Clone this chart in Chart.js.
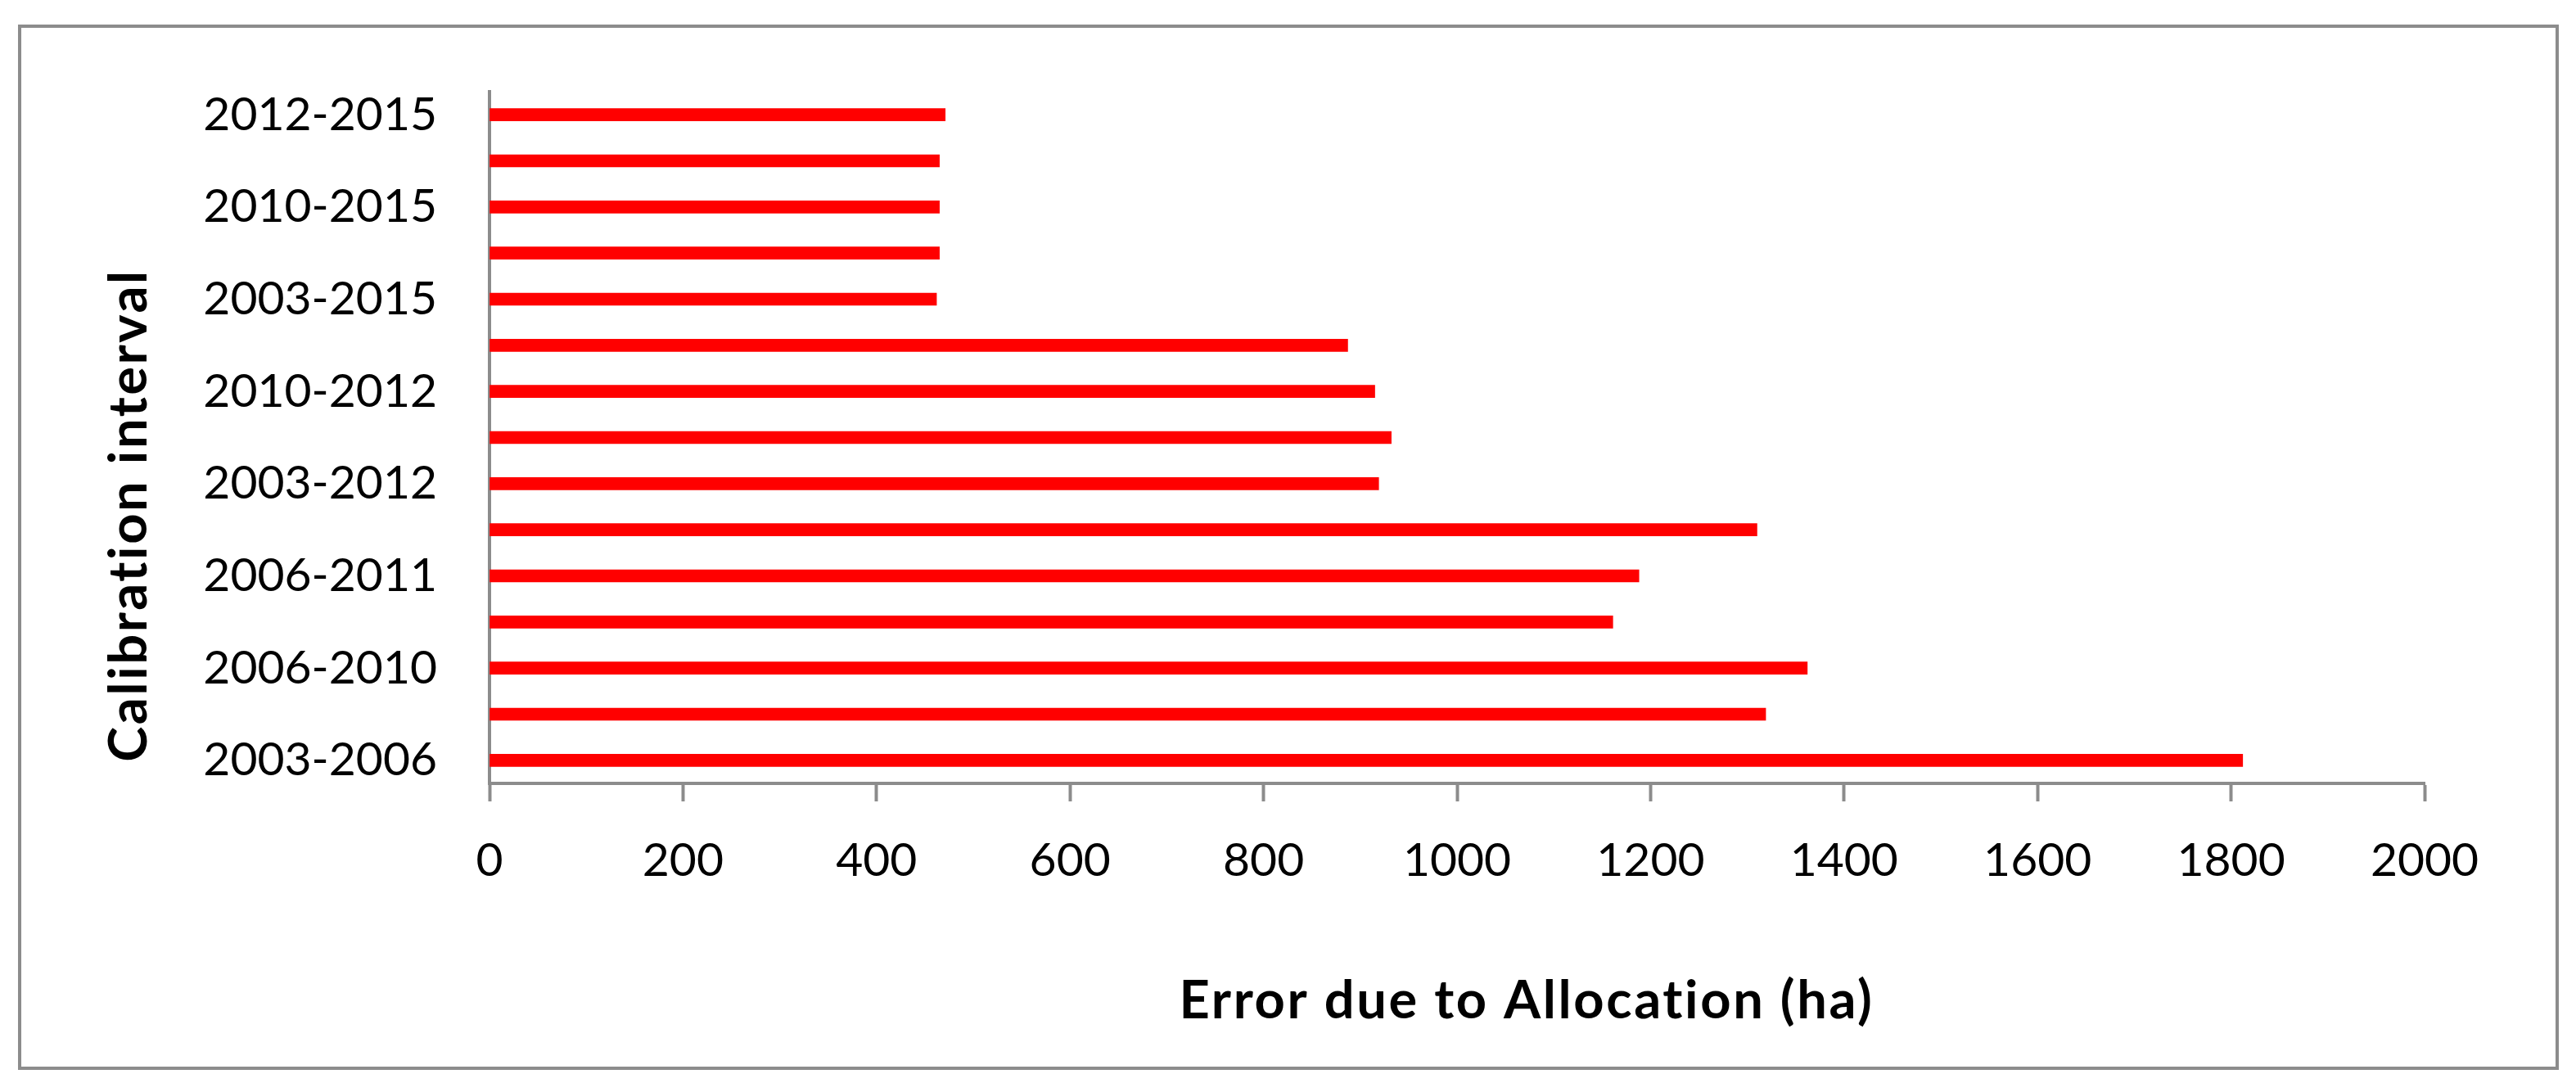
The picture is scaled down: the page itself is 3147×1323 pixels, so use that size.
<!DOCTYPE html>
<html>
<head>
<meta charset="utf-8">
<script src="https://cdn.jsdelivr.net/npm/chart.js@4/dist/chart.umd.min.js"></script>
<style>
  html, body { margin: 0; padding: 0; background: #ffffff; }
  canvas { display: block; }
</style>
</head>
<body>
<canvas id="c" width="3147" height="1323"></canvas>
<script>
// Categories listed bottom to top as they appear in the chart
const categories = [
  '2003-2006', '2003-2010', '2006-2010', '2003-2011', '2006-2011',
  '2010-2011', '2003-2012', '2006-2012', '2010-2012', '2011-2012',
  '2003-2015', '2006-2015', '2010-2015', '2011-2015', '2012-2015'
];
const allocationError = [
  1812, 1319, 1362, 1161, 1188,
  1310, 919, 932, 915, 887,
  462, 465, 465, 465, 471
];
const xTicks = [0, 200, 400, 600, 800, 1000, 1200, 1400, 1600, 1800, 2000];
const xTitle = 'Error due to Allocation (ha)';
const yTitle = 'Calibration interval';

const GRAY = '#8c8c8c';
const TICK_FONT = { family: 'Lato', size: 57 };
const TITLE_FONT = '700 65px Lato';

const frameAndTitles = {
  id: 'frameAndTitles',
  beforeDraw(chart) {
    const ctx = chart.ctx;
    ctx.save();
    ctx.fillStyle = '#ffffff';
    ctx.fillRect(0, 0, chart.width, chart.height);
    ctx.strokeStyle = GRAY;
    ctx.lineWidth = 4;
    ctx.strokeRect(24, 32, 3100, 1273);
    ctx.restore();
  },
  afterDraw(chart) {
    const ctx = chart.ctx;
    const area = chart.chartArea;
    ctx.save();
    ctx.fillStyle = '#000000';
    ctx.font = TITLE_FONT;
    if ('letterSpacing' in ctx) ctx.letterSpacing = '2.6px';
    ctx.textAlign = 'center';
    ctx.textBaseline = 'alphabetic';
    // x-axis title
    ctx.fillText(xTitle, (area.left + area.right) / 2 + 85, 1244);
    // y-axis title (rotated)
    ctx.translate(179, (area.top + area.bottom) / 2 + 95);
    ctx.rotate(-Math.PI / 2);
    ctx.fillText(yTitle, 0, 0);
    ctx.restore();
  }
};

new Chart(document.getElementById('c'), {
  type: 'bar',
  data: {
    labels: categories,
    datasets: [{
      data: allocationError,
      backgroundColor: '#ff0000',
      borderWidth: 0,
      barThickness: 15
    }]
  },
  options: {
    indexAxis: 'y',
    responsive: false,
    animation: false,
    devicePixelRatio: 1,
    layout: { padding: { top: 112, right: 185, left: 0, bottom: 0 } },
    plugins: {
      legend: { display: false },
      tooltip: { enabled: false },
      title: { display: false }
    },
    scales: {
      x: {
        type: 'linear',
        min: 0,
        max: 2000,
        afterBuildTicks(scale) { scale.ticks = xTicks.map(v => ({ value: v })); },
        afterFit(scale) { scale.height = 366; },
        grid: {
          display: true,
          drawOnChartArea: false,
          drawTicks: true,
          tickLength: 22,
          tickWidth: 4,
          tickColor: GRAY,
          color: GRAY
        },
        border: { display: true, color: GRAY, width: 4 },
        ticks: {
          color: '#000000',
          font: TICK_FONT,
          padding: 38,
          maxRotation: 0,
          autoSkip: false,
          callback(value) { return String(value); }
        },
        title: { display: false }
      },
      y: {
        type: 'category',
        reverse: true,
        afterFit(scale) { scale.width = 598; },
        grid: { display: false, drawTicks: false },
        border: { display: true, color: GRAY, width: 4 },
        ticks: {
          color: '#000000',
          font: TICK_FONT,
          padding: 64,
          autoSkip: false,
          callback(value, index) {
            return index % 2 === 0 ? categories[index] : '';
          }
        },
        title: { display: false }
      }
    }
  },
  plugins: [frameAndTitles]
});
</script>
</body>
</html>
